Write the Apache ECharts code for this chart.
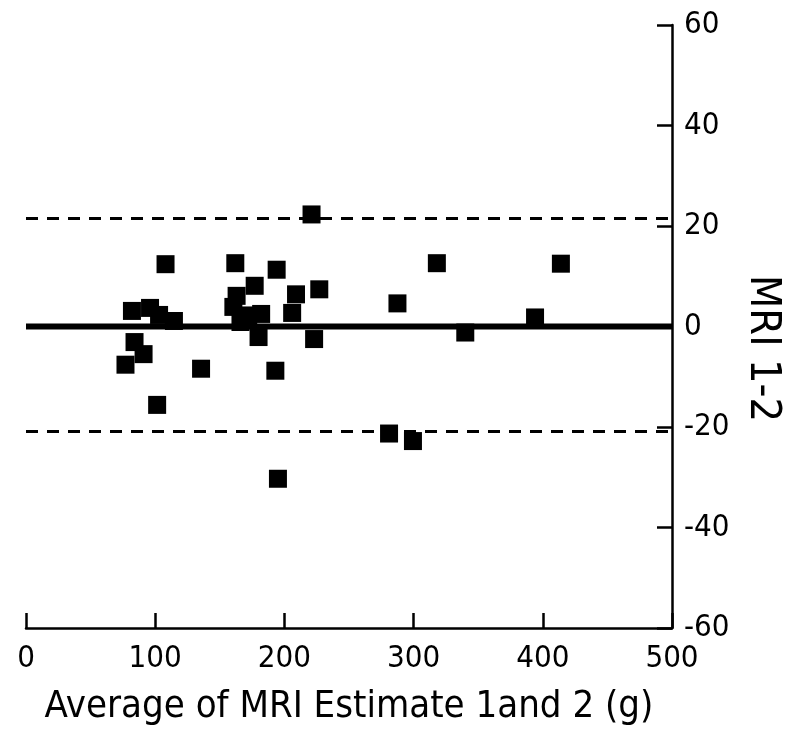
<!DOCTYPE html>
<html>
<head>
<meta charset="utf-8">
<script src="https://cdn.jsdelivr.net/npm/echarts@6/dist/echarts.min.js"></script>
<style>
html,body{margin:0;padding:0;background:#fff;}
#chart{width:790px;height:743px;}
</style>
</head>
<body>
<div id="chart"></div>
<script>
// Data (Bland-Altman style plot)
const averageMRI = [221, 108, 162, 194, 318, 414, 227, 177, 209, 287.5, 82, 96, 103, 114.5, 160.5, 163, 166, 172, 182, 206, 394, 340, 223, 180, 84, 91, 77, 135.5, 193, 101.5, 281, 299.5, 195];
const diffMRI =    [22.3, 12.4, 12.6, 11.3, 12.6, 12.5, 7.4, 8.1, 6.4, 4.6, 3.1, 3.7, 2.3, 1.1, 3.9, 6.1, 0.9, 2.2, 2.5, 2.7, 1.8, -1.2, -2.5, -2.1, -3.1, -5.5, -7.6, -8.4, -8.8, -15.6, -21.3, -22.8, -30.3];
const meanDiff = 0;
const upperLimit = 21.5;
const lowerLimit = -20.9;
const xRange = [0, 500];
const xTicks = [0, 100, 200, 300, 400, 500];
const yTicks = [-60, -40, -20, 0, 20, 40, 60];
const xTitle = 'Average of MRI Estimate 1and 2 (g)';
const yTitle = 'MRI 1-2';

const FONT = "'DejaVu Sans Condensed', 'Liberation Sans Narrow', sans-serif";
const points = averageMRI.map((x, i) => [x, diffMRI[i]]);
const hLine = v => xRange.map(x => [x, v]);

const chart = echarts.init(document.getElementById('chart'), null, {renderer: 'canvas'});
chart.setOption({
  backgroundColor: '#ffffff',
  animation: false,
  grid: {left: 26, right: 118, top: 25, bottom: 115, containLabel: false, outerBoundsMode: 'none'},
  xAxis: {
    type: 'value',
    min: xTicks[0], max: xTicks[xTicks.length - 1], interval: 100,
    name: xTitle,
    nameLocation: 'middle',
    nameGap: 60,
    nameTextStyle: {fontFamily: FONT, fontSize: 38, color: '#000'},
    axisLine: {show: true, onZero: false, lineStyle: {color: '#000', width: 2.5}},
    axisTick: {show: true, inside: true, length: 15, lineStyle: {color: '#000', width: 2.5}},
    axisLabel: {fontFamily: FONT, fontSize: 31, color: '#000', margin: 15},
    splitLine: {show: false}
  },
  yAxis: {
    type: 'value',
    position: 'right',
    min: yTicks[0], max: yTicks[yTicks.length - 1], interval: 20,
    name: yTitle,
    nameLocation: 'middle',
    nameRotate: -90,
    nameGap: 69,
    nameTextStyle: {fontFamily: FONT, fontSize: 43, color: '#000', padding: [0, 0, 0, 44]},
    axisLine: {show: true, onZero: false, lineStyle: {color: '#000', width: 2.5}},
    axisTick: {show: true, inside: true, length: 15, lineStyle: {color: '#000', width: 2.5}},
    axisLabel: {fontFamily: FONT, fontSize: 31, color: '#000', margin: 12},
    splitLine: {show: false}
  },
  series: [
    {type: 'line', data: hLine(meanDiff), symbol: 'none', z: 1,
     lineStyle: {color: '#000', width: 6}},
    {type: 'line', data: hLine(upperLimit), symbol: 'none', z: 1,
     lineStyle: {color: '#000', width: 3, type: [12, 9]}},
    {type: 'line', data: hLine(lowerLimit), symbol: 'none', z: 1,
     lineStyle: {color: '#000', width: 3, type: [12, 9]}},
    {type: 'scatter', data: points, symbol: 'rect', symbolSize: 18, z: 3,
     itemStyle: {color: '#000', opacity: 1}}
  ]
});
</script>
</body>
</html>
